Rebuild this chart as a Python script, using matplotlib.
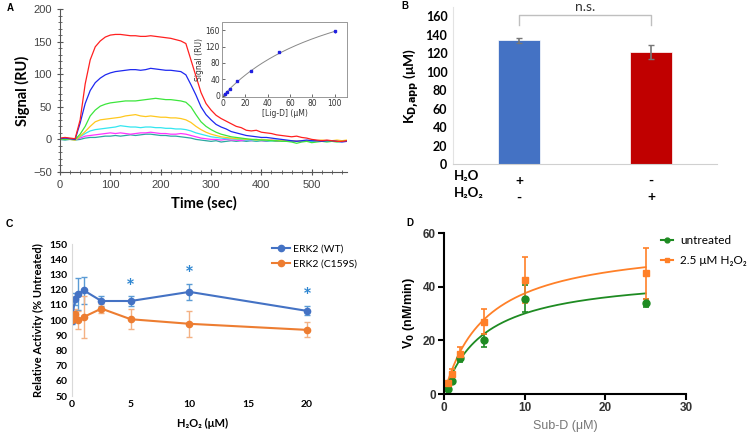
import numpy as np
import matplotlib
matplotlib.use('Agg')
import matplotlib.pyplot as plt
from matplotlib.ticker import MultipleLocator
from matplotlib.lines import Line2D

# ---------------- Panel A data (SPR sensorgrams) ----------------
time_s = [0, 10, 20, 30, 40, 50, 60, 70, 80, 90,
          100, 110, 120, 130, 140, 150, 160, 170, 180, 190,
          200, 210, 220, 230, 240, 250, 260, 270, 280, 290,
          300, 310, 320, 330, 340, 350, 360, 370, 380, 390,
          400, 410, 420, 430, 440, 450, 460, 470, 480, 490,
          500, 510, 520, 530, 540, 550, 560, 570]
spr_red = [2, 3, 2, 1, 30, 85, 122, 142, 151, 157,
           160, 161, 161, 160, 159, 159, 158, 158, 159, 158,
           157, 156, 155, 153, 151, 147, 122, 97, 72, 55,
           45, 37, 32, 28, 24, 20, 18, 14, 13, 14,
           11, 10, 9, 7, 6, 5, 4, 5, 3, 2,
           0, -1, -2, -1, -2, -3, -3, -2]
spr_blue = [1, 2, 1, 0, 25, 55, 75, 87, 94, 99,
            102, 104, 105, 106, 107, 107, 106, 107, 109, 108,
            107, 106, 106, 105, 104, 99, 84, 68, 50, 38,
            30, 23, 19, 16, 12, 10, 8, 6, 5, 4,
            3, 3, 2, 1, 0, -1, -2, -3, -2, -1,
            -2, -2, -3, -2, -2, -3, -4, -3]
spr_green = [1, 0, 1, 0, 8, 20, 36, 45, 51, 54,
             56, 57, 58, 59, 59, 59, 60, 61, 62, 63,
             62, 61, 61, 60, 59, 57, 50, 38, 27, 20,
             15, 11, 8, 6, 4, 3, 2, 1, 0, 0,
             -1, -1, -2, -2, -3, -3, -4, -6, -4, -3,
             -5, -4, -3, -4, -3, -4, -3, -3]
spr_yellow = [0, 1, 0, -1, 5, 12, 20, 27, 30, 31,
              32, 33, 34, 36, 37, 38, 36, 35, 36, 35,
              34, 34, 33, 33, 32, 30, 26, 20, 15, 11,
              8, 6, 4, 3, 2, 1, 1, 0, 0, -1,
              0, -1, -1, -2, -1, -2, -2, -3, -2, -2,
              -1, -2, -1, -2, -2, -1, -2, -1]
spr_cyan = [0, 0, 1, 0, 4, 9, 13, 15, 16, 17,
            18, 19, 21, 20, 19, 19, 18, 19, 19, 18,
            18, 17, 17, 16, 16, 15, 13, 10, 8, 6,
            4, 3, 2, 1, 1, 0, 0, -1, -1, -2,
            -1, -2, -2, -1, -2, -3, -2, -3, -2, -2,
            -3, -2, -2, -3, -2, -2, -3, -2]
spr_magenta = [1, 2, 1, 0, 2, 5, 6, 7, 8, 9,
               10, 9, 10, 9, 8, 9, 10, 10, 11, 10,
               9, 9, 8, 8, 9, 8, 6, 4, 2, 1,
               0, 0, -1, 0, -1, -1, -2, -1, -2, -1,
               -2, -2, -1, -2, -2, -3, -2, -2, -3, -2,
               -2, -3, -2, -2, -3, -2, -3, -2]
spr_teal = [0, -1, 0, -1, 0, 2, 3, 3, 4, 5,
            5, 6, 5, 6, 7, 6, 7, 8, 8, 7,
            6, 6, 5, 5, 4, 3, 2, 0, -1, -2,
            -3, -2, -4, -3, -2, -3, -2, -3, -2, -3,
            -2, -3, -2, -3, -2, -3, -3, -2, -3, -2,
            -3, -2, -3, -2, -3, -2, -3, -2]
spr_series = [spr_teal, spr_magenta, spr_cyan, spr_yellow, spr_green, spr_blue, spr_red]
spr_colors = ['#2AA8A0', '#FF33FF', '#33E6F0', '#FFC81E', '#3CE63C', '#1E28F0', '#FF2020']

inset_conc = [1.6, 3.1, 6.25, 12.5, 25, 50, 100]
inset_signal = [5, 8, 17, 35, 61, 107, 157]
inset_err = [1.5, 1.5, 2, 2, 2, 2, 3]
fit_bmax = 330
fit_kd = 110

# ---------------- Panel B data ----------------
b_values = [134, 121]
b_err = [2.5, 7.5]
b_colors = ['#4472C4', '#C00000']
b_h2o = ['+', '-']
b_h2o2 = ['-', '+']

# ---------------- Panel C data ----------------
c_x = [0, 0.25, 0.5, 1, 2.5, 5, 10, 20]
c_wt = [99.5, 114, 117, 119.5, 112.5, 112.5, 118.5, 106]
c_wt_err = [2, 4, 10.5, 9, 3, 3, 5.5, 3]
c_mut = [100, 104, 100, 102, 107.5, 100.5, 97.5, 93.5]
c_mut_err = [1.5, 3, 6, 14, 3, 6.5, 8.5, 5]
c_star_x = [5, 10, 20]
c_star_y = [121, 129.5, 115]
c_labels = ['ERK2 (WT)', 'ERK2 (C159S)']

# ---------------- Panel D data ----------------
d_x = [0.5, 1, 2, 5, 10, 25]
d_untr = [2, 5, 13.5, 20, 35.5, 34]
d_untr_err = [0.5, 1, 1.5, 2.5, 5, 1.5]
d_h2o2 = [4, 7.5, 15, 27, 42.5, 45]
d_h2o2_err = [1, 2, 2.5, 4.5, 8.5, 9.5]
d_untr_vmax, d_untr_km = 45, 5
d_h2o2_vmax, d_h2o2_km = 57.2, 5.25
d_labels = ['untreated', '2.5 μM H₂O₂']

W, H = 748, 440
fig = plt.figure(figsize=(W / 100, H / 100), dpi=100)

def box(x0, y0, x1, y1):
    return [x0 / W, 1 - y1 / H, (x1 - x0) / W, (y1 - y0) / H]

ARIAL = ['Liberation Sans', 'DejaVu Sans']
CAL = ['Lato', 'DejaVu Sans']

# ---------------- Panel A ----------------
axA = fig.add_axes(box(60, 9, 347, 172))
for ser, col in zip(spr_series, spr_colors):
    axA.plot(time_s, ser, color=col, lw=0.9)
axA.set_xlim(0, 570)
axA.set_ylim(-50, 200)
axA.spines['top'].set_visible(False)
axA.spines['right'].set_visible(False)
for s in ['left', 'bottom']:
    axA.spines[s].set_color('#555555')
    axA.spines[s].set_linewidth(0.8)
axA.xaxis.set_major_locator(MultipleLocator(100))
axA.xaxis.set_minor_locator(MultipleLocator(20))
axA.yaxis.set_major_locator(MultipleLocator(50))
axA.yaxis.set_minor_locator(MultipleLocator(10))
axA.tick_params(which='both', direction='inout', color='#555555', labelsize=8,
                labelcolor='#444444')
axA.tick_params(which='major', length=5)
axA.tick_params(which='minor', length=3)
for lab in axA.get_xticklabels() + axA.get_yticklabels():
    lab.set_family(ARIAL)
axA.set_xlabel('Time (sec)', fontsize=10.5, fontweight='bold', family=CAL, labelpad=4)
axA.set_ylabel('Signal (RU)', fontsize=10.5, fontweight='bold', family=CAL, labelpad=2)

# inset
axI = fig.add_axes(box(222, 22, 347, 97))
cx = np.linspace(0, 100, 200)
axI.plot(cx, fit_bmax * cx / (fit_kd + cx), color='#888888', lw=0.7)
axI.errorbar(inset_conc, inset_signal, yerr=inset_err, fmt='s', ms=1.6, color='#2020E0',
             ecolor='#2020E0', elinewidth=0.6, capsize=0)
axI.set_xlim(-1, 111)
axI.set_ylim(-3, 180)
axI.set_xticks([0, 20, 40, 60, 80, 100])
axI.set_yticks([0, 40, 80, 120, 160])
for s in axI.spines.values():
    s.set_linestyle((0, (1, 1)))
    s.set_color('#888888')
    s.set_linewidth(0.6)
axI.tick_params(direction='in', length=2, width=0.5, labelsize=5.5, pad=1.5, colors='#333333')
axI.set_xlabel('[Lig-D] (μM)', fontsize=5.5, labelpad=1, color='#333333')
axI.set_ylabel('Signal (RU)', fontsize=5.5, labelpad=1, color='#333333')

# ---------------- Panel B ----------------
axB = fig.add_axes(box(453, 7, 717, 164))
xb = np.arange(len(b_values))
axB.bar(xb, b_values, width=0.32, color=b_colors, edgecolor='white', linewidth=0.5,
        yerr=b_err, error_kw=dict(ecolor='#777777', elinewidth=1.2, capsize=2.5, capthick=1))
axB.set_xlim(-0.5, 1.5)
axB.set_ylim(0, 170)
axB.set_yticks(range(0, 161, 20))
axB.set_xticks([])
for s in ['top', 'right']:
    axB.spines[s].set_visible(False)
axB.spines['left'].set_color('#E3E3E3')
axB.spines['bottom'].set_color('#D0D0D0')
axB.tick_params(axis='y', length=0, labelsize=9, pad=4)
for lab in axB.get_yticklabels():
    lab.set_family(CAL)
    lab.set_fontweight('bold')
axB.set_ylabel(r'K$_\mathbf{D{,}app}$ (μM)', fontsize=10, fontweight='bold', family=CAL, labelpad=3)
axB.plot([0, 0, 1, 1], [150, 161, 161, 150], color='#BFBFBF', lw=1, clip_on=False)
axB.text(0.5, 163, 'n.s.', ha='center', va='bottom', fontsize=10, color='#333333', family=CAL)
fig.text(454 / W, 1 - 176 / H, 'H₂O', fontsize=9.5, fontweight='bold', family=CAL, va='center')
fig.text(454 / W, 1 - 193 / H, 'H₂O₂', fontsize=9.5, fontweight='bold', family=CAL, va='center')
for i in range(2):
    axB.annotate(b_h2o[i], xy=(xb[i], 0), xycoords=('data', 'axes fraction'),
                 xytext=(0, -12), textcoords='offset points', ha='center', va='center',
                 fontsize=10, fontweight='bold', family=CAL)
    axB.annotate(b_h2o2[i], xy=(xb[i], 0), xycoords=('data', 'axes fraction'),
                 xytext=(0, -24), textcoords='offset points', ha='center', va='center',
                 fontsize=10, fontweight='bold', family=CAL)

# ---------------- Panel C ----------------
axC = fig.add_axes(box(72, 244, 334, 396))
c_cols = ['#4472C4', '#ED7D31']
axC.errorbar(c_x, c_wt, yerr=c_wt_err, color=c_cols[0], ecolor='#5B9BD5', elinewidth=1,
             capsize=2.5, capthick=1, marker='o', ms=4.5, lw=1.5)
axC.errorbar(c_x, c_mut, yerr=c_mut_err, color=c_cols[1], ecolor='#F4B183', elinewidth=1,
             capsize=2.5, capthick=1, marker='o', ms=4.5, lw=1.5)
for sx, sy in zip(c_star_x, c_star_y):
    axC.text(sx, sy, '*', ha='center', va='center', fontsize=15, fontweight='bold',
             color='#2E86D1', family=CAL)
axC.set_xlim(0, 22.3)
axC.set_ylim(50, 150)
axC.set_xticks([0, 5, 10, 15, 20])
axC.set_yticks(range(50, 151, 10))
for s in ['top', 'right']:
    axC.spines[s].set_visible(False)
axC.spines['left'].set_color('#D9D9D9')
axC.spines['bottom'].set_visible(False)
axC.tick_params(length=0, labelsize=7.5, pad=3)
for lab in axC.get_xticklabels() + axC.get_yticklabels():
    lab.set_family(CAL)
    lab.set_fontweight('bold')
axC.set_xlabel('H₂O₂ (μM)', fontsize=8, fontweight='bold', family=CAL, labelpad=6)
axC.set_ylabel('Relative Activity (% Untreated)', fontsize=8, fontweight='bold', family=CAL,
               labelpad=4)
hC = [Line2D([], [], color=c, marker='o', ms=4.5, lw=1.5) for c in c_cols]
fig.legend(hC, c_labels, loc='center left', bbox_to_anchor=(272 / W, 1 - 256.5 / H),
           bbox_transform=fig.transFigure, frameon=False, borderpad=0, borderaxespad=0,
           handlelength=1.73, handletextpad=0.25, labelspacing=0.6,
           prop={'family': CAL, 'size': 7.5})

# ---------------- Panel D ----------------
axD = fig.add_axes(box(444, 233, 686, 394))
d_cols = ['#1E8B22', '#FF8028']
dx = np.linspace(0.3, 25, 200)
axD.plot(dx, d_untr_vmax * dx / (d_untr_km + dx), color=d_cols[0], lw=1.3)
axD.plot(dx, d_h2o2_vmax * dx / (d_h2o2_km + dx), color=d_cols[1], lw=1.3)
axD.errorbar(d_x, d_untr, yerr=d_untr_err, fmt='o', color=d_cols[0], ms=5, elinewidth=1.2,
             capsize=2.5, capthick=1.2)
axD.errorbar(d_x, d_h2o2, yerr=d_h2o2_err, fmt='s', color=d_cols[1], ms=5, elinewidth=1.2,
             capsize=2.5, capthick=1.2)
axD.set_xlim(0, 30)
axD.set_ylim(0, 60)
axD.set_xticks([0, 10, 20, 30])
axD.set_yticks([0, 20, 40, 60])
for s in ['top', 'right']:
    axD.spines[s].set_visible(False)
for s in ['left', 'bottom']:
    axD.spines[s].set_linewidth(1.5)
axD.tick_params(direction='out', length=4, width=1.5, labelsize=8.5, pad=2)
for lab in axD.get_xticklabels() + axD.get_yticklabels():
    lab.set_family(ARIAL)
    lab.set_fontweight('bold')
    lab.set_color('#333333')
axD.set_xlabel('Sub-D (μM)', fontsize=9, color='#777777', family=ARIAL, labelpad=4)
axD.set_ylabel(r'V$_\mathbf{0}$ (nM/min)', fontsize=9, fontweight='bold', family=ARIAL, labelpad=4)
hD = [Line2D([], [], color=d_cols[0], marker='o', ms=3.5, lw=1.5),
      Line2D([], [], color=d_cols[1], marker='s', ms=3.5, lw=1.5)]
fig.legend(hD, d_labels, loc='center left', bbox_to_anchor=(661 / W, 1 - 250.5 / H),
           bbox_transform=fig.transFigure, frameon=False, borderpad=0, borderaxespad=0,
           handlelength=1.0, handletextpad=0.65, labelspacing=0.75,
           prop={'family': CAL, 'size': 8.5})

# panel letters
fig.text(7 / W, 1 - 8 / H, 'A', fontsize=7, fontweight='bold', va='center', family=ARIAL)
fig.text(401 / W, 1 - 6 / H, 'B', fontsize=7, fontweight='bold', va='center', family=ARIAL)
fig.text(6 / W, 1 - 224 / H, 'C', fontsize=7.5, fontweight='bold', va='center', family=ARIAL)
fig.text(406 / W, 1 - 223 / H, 'D', fontsize=7, fontweight='bold', va='center', family=ARIAL)

fig.savefig('out.png', dpi=100)
